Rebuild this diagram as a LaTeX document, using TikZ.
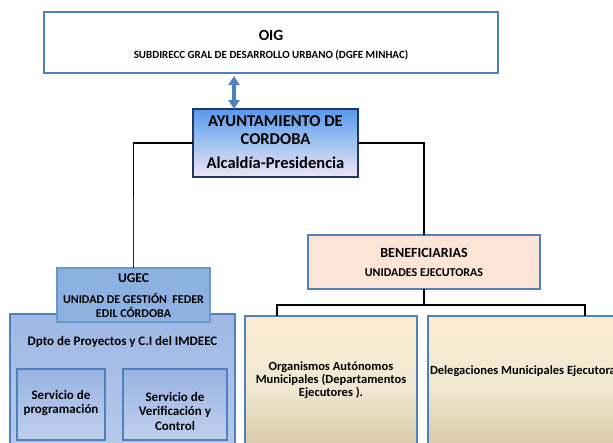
\documentclass[tikz,border=0pt]{standalone}
\usepackage{fontspec}
\setmainfont{Carlito}
\usetikzlibrary{arrows.meta}
\definecolor{bordblue}{RGB}{79,129,189}
\definecolor{navyb}{RGB}{31,56,100}
\definecolor{navyl}{RGB}{20,40,110}
\definecolor{aytotop}{RGB}{88,152,235}
\definecolor{aytomid}{RGB}{160,195,240}
\definecolor{aytobot}{RGB}{242,228,245}
\definecolor{ugecfill}{RGB}{141,178,226}
\definecolor{ugecbord}{RGB}{105,150,205}
\definecolor{dptotop}{RGB}{158,184,228}
\definecolor{dptobot}{RGB}{182,202,236}
\definecolor{servtop}{RGB}{152,180,226}
\definecolor{servbot}{RGB}{192,208,238}
\definecolor{beneffill}{RGB}{252,228,214}
\definecolor{tantop}{RGB}{253,237,210}
\definecolor{tanmid}{RGB}{240,232,210}
\definecolor{tanbot}{RGB}{212,198,160}
\begin{document}
\begin{tikzpicture}[x=1pt,y=-1pt,
  box/.style={draw=bordblue,line width=2.2pt,inner sep=0pt,outer sep=0pt},
  lbl/.style={inner sep=0pt,outer sep=0pt,align=center},
  conn/.style={line width=1.8pt,black}]
\useasboundingbox (0,0) rectangle (613,442);
\clip (0,0) rectangle (613,442);

% boxes
\node[box,fill=white,minimum width=454pt,minimum height=61pt] (oig) at (271,42.5) {};
\node[box,draw=navyb,line width=1.8pt,top color=aytotop,bottom color=aytobot,middle color=aytomid,minimum width=165pt,minimum height=68pt] (ayto) at (275.5,143) {};
\node[box,top color=dptotop,bottom color=dptobot,minimum width=225pt,minimum height=141pt] (dpto) at (122.5,384.5) {};
\node[box,draw=ugecbord,line width=1.5pt,fill=ugecfill,minimum width=153pt,minimum height=54pt] (ugec) at (133.5,295) {};
\node[box,top color=servtop,bottom color=servbot,minimum width=88pt,minimum height=71pt] (serv1) at (61,404.5) {};
\node[box,top color=servtop,bottom color=servbot,minimum width=104pt,minimum height=71pt] (serv2) at (175,404.5) {};
\node[box,line width=2.8pt,fill=beneffill,minimum width=232pt,minimum height=54pt] (benef) at (424,262) {};
\node[box,top color=tantop,bottom color=tanbot,middle color=tanmid,minimum width=172pt,minimum height=139pt] (org) at (331,385.5) {};
\node[box,top color=tantop,bottom color=tanbot,middle color=tanmid,minimum width=197pt,minimum height=139pt] (dele) at (526.5,385.5) {};

% connectors
\coordinate (ax) at (234,0);
\draw[bordblue,line width=3.5pt,{Triangle[width=11pt,length=9pt]}-{Triangle[width=11pt,length=9pt]},shorten <=3pt]
  (ax |- oig.south) -- (ax |- ayto.north);
\draw[conn] (ayto.west) -| (ugec.north);
\coordinate (navyc) at (0,197);
\draw[line width=1.8pt,navyl] (ugec.north |- navyc) -- (ugec.north);
\draw[conn] (ayto.east) -| (benef.north);
\coordinate (legL) at (277,305);
\coordinate (legR) at (585,305);
\draw[conn] (benef.south) -- (benef.south |- legL);
\draw[conn] (org.north -| legL) -- (legL) -- (legR) -- (dele.north -| legR);

% labels
\node[lbl,font=\bfseries\fontsize{15.5}{18}\selectfont] (toig) at (271,35.5) {OIG};
\node[lbl,font=\bfseries\fontsize{11}{12}\selectfont] (toig2) at (271,55.5) {SUBDIRECC GRAL DE DESARROLLO URBANO (DGFE MINHAC)};
\node[lbl,font=\bfseries\fontsize{16.5}{18}\selectfont] (tayto) at (275.5,130.5) {AYUNTAMIENTO DE\\CORDOBA};
\node[lbl,font=\bfseries\fontsize{16.5}{18}\selectfont] (tayto2) at (275.5,163) {Alcaldía-Presidencia};
\node[lbl,font=\bfseries\fontsize{13.5}{15}\selectfont] (tugec) at (133.5,278.5) {UGEC};
\node[lbl,font=\bfseries\fontsize{12}{13.5}\selectfont] (tugec2) at (133.5,305.5) {UNIDAD DE GESTIÓN \ FEDER\\EDIL CÓRDOBA};
\node[lbl,font=\bfseries\fontsize{13}{14}\selectfont] (tdpto) at (122.5,342) {Dpto de Proyectos y C.I del IMDEEC};
\node[lbl,font=\bfseries\fontsize{13}{14}\selectfont] (tserv1) at (61,403.5) {Servicio de\\programación};
\node[lbl,font=\bfseries\fontsize{13}{14.5}\selectfont] (tserv2) at (175,411) {Servicio de\\Verificación y\\Control};
\node[lbl,font=\bfseries\fontsize{14}{15}\selectfont] (tbenef) at (424,252.5) {BENEFICIARIAS};
\node[lbl,font=\bfseries\fontsize{12}{13}\selectfont] (tbenef2) at (424,272.5) {UNIDADES EJECUTORAS};
\node[lbl,font=\bfseries\fontsize{12.5}{13.3}\selectfont] (torg) at (331,380) {Organismos Autónomos\\Municipales (Departamentos\\Ejecutores ).};
\node[lbl,anchor=west,font=\bfseries\fontsize{12.5}{13.3}\selectfont] (tdele) at (430,371) {Delegaciones Municipales Ejecutoras};
\end{tikzpicture}
\end{document}
